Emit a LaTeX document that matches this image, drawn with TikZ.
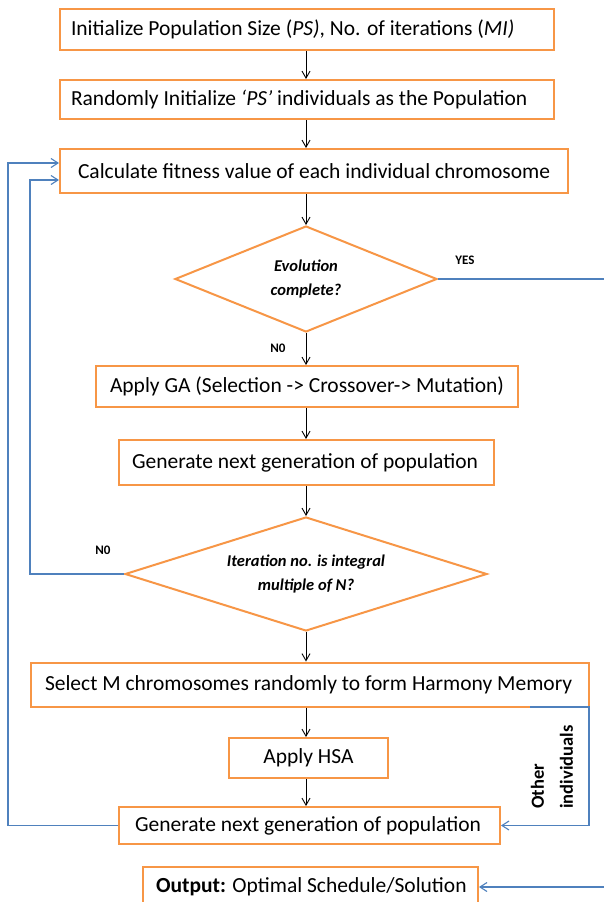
\documentclass[tikz,border=0pt]{standalone}
\usepackage{fontspec}
\setmainfont{Carlito}
\usetikzlibrary{shapes.geometric,arrows.meta}
\definecolor{borange}{RGB}{247,150,70}
\definecolor{lblue}{RGB}{79,129,189}
\newcommand{\ltxt}[2]{\makebox[#1][l]{#2}}
\begin{document}
\begin{tikzpicture}[x=1pt,y=-1pt,
  box/.style={draw=borange, line width=2pt, fill=white, inner ysep=0pt,
    font=\fontsize{21.5}{26}\selectfont},
  dia/.style={diamond, draw=borange, line width=2pt, fill=white, inner sep=0pt,
    align=center, font=\bfseries\itshape\fontsize{16.5}{24}\selectfont},
  arr/.style={draw=black, line width=0.9pt, -{Straight Barb[length=7pt,width=8pt]}},
  fb/.style={draw=lblue, line width=1.1pt, -{Straight Barb[length=7pt,width=9pt]}},
  lbl/.style={font=\bfseries\fontsize{13}{15}\selectfont}]
\useasboundingbox[fill=white] (0,0) rectangle (604,902);

\node[box, inner xsep=11pt, minimum width=494pt, minimum height=41pt] (b1) at (307,29.5)
  {\ltxt{472pt}{Initialize Population Size (\textit{PS)}, No. of iterations (\textit{MI)}}};
\node[box, inner xsep=11pt, minimum width=494pt, minimum height=39pt] (b2) at (307,99.5)
  {\ltxt{472pt}{Randomly Initialize \textit{‘PS’} individuals as the Population}};
\node[box, inner xsep=18pt, minimum width=508pt, minimum height=44pt] (b3) at (314,171)
  {\ltxt{472pt}{Calculate fitness value of each individual chromosome}};
\node[dia, aspect=2.47, minimum width=262pt, minimum height=106pt] (d1) at (306,279)
  {Evolution\\complete?};
\node[box, inner xsep=14pt, minimum width=422pt, minimum height=41pt] (ga) at (307,386.5)
  {\ltxt{394pt}{Apply GA (Selection -> Crossover-> Mutation)}};
\node[box, inner xsep=13pt, minimum width=375pt, minimum height=45pt] (g1) at (306.5,462.5)
  {\ltxt{349pt}{Generate next generation of population}};
\node[dia, aspect=3.18, minimum width=362pt, minimum height=114pt] (d2) at (306,574)
  {Iteration no. is integral\\multiple of N?};
\node[box, inner xsep=14pt, minimum width=558pt, minimum height=44pt] (sel) at (310,684.5)
  {\ltxt{530pt}{Select M chromosomes randomly to form Harmony Memory}};
\node[box, minimum width=159pt, minimum height=40pt] (hsa) at (308.5,758)
  {Apply HSA};
\node[box, inner xsep=16pt, minimum width=381pt, minimum height=37pt] (g2) at (309.5,825.5)
  {\ltxt{349pt}{Generate next generation of population}};
\node[box, inner xsep=13pt, minimum width=335pt, minimum height=40pt] (out) at (310.5,887)
  {\ltxt{309pt}{\textbf{Output:} Optimal Schedule/Solution}};

\coordinate (ax) at (306,0);
\draw[arr] (b1.south -| ax) -- (b2.north -| ax);
\draw[arr] (b2.south -| ax) -- (b3.north -| ax);
\draw[arr] (b3.south -| ax) -- (d1.north);
\draw[arr] (d1.south) -- (ga.north -| ax);
\draw[arr] (ga.south -| ax) -- (g1.north -| ax);
\draw[arr] (g1.south -| ax) -- (d2.north);
\draw[arr] (d2.south) -- (sel.north -| ax);
\draw[arr] (sel.south -| ax) -- (hsa.north -| ax);
\draw[arr] (hsa.south -| ax) -- (g2.north -| ax);

\coordinate (yr) at (612,279);
\draw[fb] (d1.east) -- (yr) |- (out.east);

\coordinate (inx) at (30,0);
\draw[fb] (d2.west) -- (d2.west -| inx) |- ([yshift=-9pt]b3.west);

\coordinate (outx) at (8,0);
\draw[fb] (g2.west) -- (g2.west -| outx) |- ([yshift=8pt]b3.west);

\coordinate (oi) at (530,707);
\coordinate (oc) at (589,707);
\draw[fb] (oi) -- (oc) |- (g2.east);

\node[lbl] (yes) at (465,260) {YES};
\node[lbl] (no1) at (278,348) {N0};
\node[lbl] (no2) at (103,550) {N0};
\node[rotate=90, align=left, inner sep=0pt,
  font=\bfseries\fontsize{18.5}{29}\selectfont] (oth) at (552,767) {Other\\individuals};
\end{tikzpicture}
\end{document}
